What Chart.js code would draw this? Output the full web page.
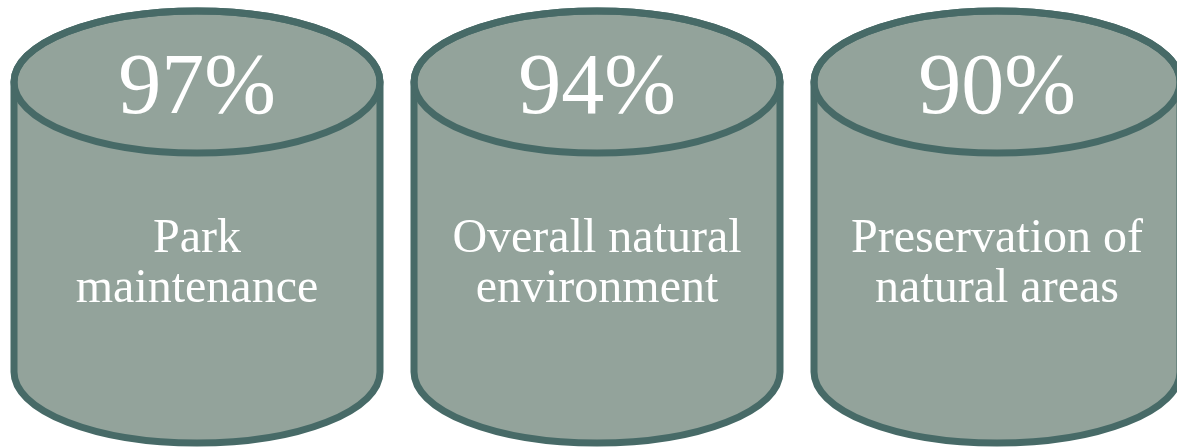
<!DOCTYPE html>
<html>
<head>
<meta charset="utf-8">
<script src="https://cdn.jsdelivr.net/npm/chart.js@4.4.0/dist/chart.umd.min.js"></script>
<style>
  html, body { margin: 0; padding: 0; background: #ffffff; }
  #wrap { width: 1177px; height: 448px; }
</style>
</head>
<body>
<div id="wrap"><canvas id="grafico"></canvas></div>
<script>
const categories = [["Park", "maintenance"], ["Overall natural", "environment"], ["Preservation of", "natural areas"]];
const percents = [97, 94, 90];
const fullness = [1, 1, 1];   // every cylinder is drawn at full height

const fillColor = '#93a39b';
const lineColor = '#476a67';

// draws each bar as a cylinder and writes the texts on it
const cylinders = {
  id: 'cylinders',
  afterDatasetsDraw(chart) {
    const ctx = chart.ctx;
    const meta = chart.getDatasetMeta(0);
    meta.data.forEach(function(bar, i) {
      const x = bar.x;
      const rx = bar.width / 2;
      const top = bar.y;
      const base = bar.base;
      const ry = 71;

      ctx.save();
      ctx.lineWidth = 7;
      ctx.strokeStyle = lineColor;
      ctx.fillStyle = fillColor;

      ctx.beginPath();
      ctx.moveTo(x - rx, top);
      ctx.lineTo(x - rx, base);
      ctx.ellipse(x, base, rx, ry, 0, Math.PI, 0, true);
      ctx.lineTo(x + rx, top);
      ctx.ellipse(x, top, rx, ry, 0, 0, Math.PI, true);
      ctx.closePath();
      ctx.fill();
      ctx.stroke();

      ctx.beginPath();
      ctx.ellipse(x, top, rx, ry, 0, 0, Math.PI * 2);
      ctx.stroke();

      ctx.fillStyle = '#ffffff';
      ctx.textAlign = 'center';
      ctx.textBaseline = 'alphabetic';
      ctx.font = '86px "Liberation Serif", serif';
      ctx.fillText(percents[i] + '%', x, top + 31);

      ctx.font = '48px "Liberation Serif", serif';
      const lines = categories[i];
      ctx.fillText(lines[0], x, 252);
      ctx.fillText(lines[1], x, 302);
      ctx.restore();
    });
  }
};

const grafico = new Chart(document.getElementById('grafico'), {
  type: 'bar',
  data: {
    labels: categories,
    datasets: [{
      data: fullness,
      backgroundColor: 'rgba(0,0,0,0)',
      borderWidth: 0,
      barThickness: 366
    }]
  },
  options: {
    responsive: true,
    maintainAspectRatio: false,
    animation: false,
    layout: { padding: { left: 197, right: 180, top: 82, bottom: 76 } },
    plugins: {
      legend: { display: false },
      tooltip: { enabled: false }
    },
    scales: {
      x: { display: false, offset: false },
      y: { display: false, min: 0, max: 1 }
    }
  },
  plugins: [cylinders]
});
</script>
</body>
</html>
